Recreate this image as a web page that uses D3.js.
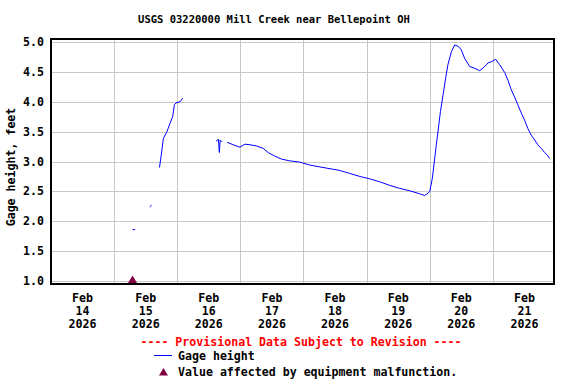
<!DOCTYPE html>
<html lang="en">
<head>
    <meta charset="UTF-8">
    <title>USGS 03220000 Mill Creek near Bellepoint OH</title>
    <script src="https://cdn.jsdelivr.net/npm/d3@7"></script>
    <style>
        body{
            margin: 0;
            background: #fff;
        }
        text{
            font-family: "DejaVu Sans Mono", "Liberation Mono", monospace;
            font-weight: bold;
        }
        .grid line{
            stroke: #c8c8c8;
            stroke-width: 1px;
            shape-rendering: crispEdges;
        }
        .gage{
            stroke: #0000ff;
            stroke-width: 1px;
            fill: none;
        }
        .frame{
            fill: none;
            stroke: #000;
            stroke-width: 2px;
            shape-rendering: crispEdges;
        }
    </style>
</head>
<body>
<svg id="svg_main" width="576" height="384"></svg>
<script>
    // gage height readings (feet), null = gap in record
    const times = [
        "2026-02-15T07:00", "2026-02-15T08:00", null,
        "2026-02-15T13:30", "2026-02-15T14:15", null,
        "2026-02-15T17:15", "2026-02-15T17:50", "2026-02-15T18:45", "2026-02-15T20:00",
        "2026-02-15T21:15", "2026-02-15T22:15", "2026-02-15T22:55", "2026-02-15T23:30",
        "2026-02-16T01:05", "2026-02-16T02:05", null,
        "2026-02-16T14:45", "2026-02-16T15:40", "2026-02-16T16:00", "2026-02-16T16:20",
        "2026-02-16T17:00", null,
        "2026-02-16T19:00", "2026-02-16T21:20", "2026-02-16T23:50", "2026-02-17T01:45",
        "2026-02-17T03:40", "2026-02-17T06:10", "2026-02-17T08:40", "2026-02-17T10:35",
        "2026-02-17T13:05", "2026-02-17T15:40", "2026-02-17T18:50", "2026-02-17T22:35",
        "2026-02-18T02:25", "2026-02-18T06:10", "2026-02-18T11:15", "2026-02-18T13:50",
        "2026-02-18T17:35", "2026-02-18T21:25", "2026-02-19T01:10", "2026-02-19T05:00",
        "2026-02-19T08:50", "2026-02-19T12:35", "2026-02-19T16:25", "2026-02-19T20:10",
        "2026-02-19T22:05", "2026-02-19T23:20", "2026-02-20T00:00", "2026-02-20T01:00",
        "2026-02-20T01:55", "2026-02-20T02:30", "2026-02-20T03:10", "2026-02-20T04:05",
        "2026-02-20T05:05", "2026-02-20T06:05", "2026-02-20T06:55", "2026-02-20T08:15",
        "2026-02-20T09:30", "2026-02-20T10:45", "2026-02-20T12:00", "2026-02-20T13:15",
        "2026-02-20T15:10", "2026-02-20T17:05", "2026-02-20T19:00", "2026-02-20T20:55",
        "2026-02-20T22:10", "2026-02-20T23:25", "2026-02-21T01:05", "2026-02-21T02:35",
        "2026-02-21T04:30", "2026-02-21T05:45", "2026-02-21T07:00", "2026-02-21T08:15",
        "2026-02-21T09:30", "2026-02-21T10:50", "2026-02-21T12:05", "2026-02-21T13:20",
        "2026-02-21T14:35", "2026-02-21T15:55", "2026-02-21T17:05", "2026-02-21T18:25",
        "2026-02-21T19:40", "2026-02-21T20:40", "2026-02-21T21:35"
    ];
    const gageHeight = [
        1.86, 1.86, null,
        2.24, 2.27, null,
        2.90, 3.08, 3.39, 3.49,
        3.64, 3.75, 3.95, 3.98,
        4.00, 4.06, null,
        3.34, 3.37, 3.15, 3.36,
        3.33, null,
        3.32, 3.28, 3.24, 3.29,
        3.28, 3.26, 3.22, 3.15,
        3.09, 3.04, 3.01, 2.99,
        2.94, 2.91, 2.87, 2.85,
        2.80, 2.75, 2.71, 2.66,
        2.60, 2.55, 2.51, 2.46,
        2.43, 2.47, 2.50, 2.72,
        3.06, 3.28, 3.51, 3.84,
        4.12, 4.40, 4.62, 4.84,
        4.95, 4.93, 4.87, 4.73,
        4.59, 4.56, 4.52, 4.59,
        4.65, 4.67, 4.71, 4.62,
        4.49, 4.36, 4.20, 4.08,
        3.95, 3.81, 3.69, 3.55,
        3.44, 3.36, 3.28, 3.22,
        3.15, 3.11, 3.05
    ];
    // equipment malfunction flags
    const malfunctionTimes = ["2026-02-15T07:00"];
    const malfunctionValues = [1.0];

    // axis ticks
    const yTicks = [1.0, 1.5, 2.0, 2.5, 3.0, 3.5, 4.0, 4.5, 5.0];
    const dayTicks = ["2026-02-14", "2026-02-15", "2026-02-16", "2026-02-17",
                      "2026-02-18", "2026-02-19", "2026-02-20", "2026-02-21"];
    const xStart = "2026-02-14T00:00";
    const xEnd = "2026-02-21T23:15";

    const title = "USGS 03220000 Mill Creek near Bellepoint OH";
    const yLabel = "Gage height, feet";

    const parse = d3.timeParse("%Y-%m-%dT%H:%M");
    const parseDay = d3.timeParse("%Y-%m-%d");

    let data = times.map((t, i) => ({
        time: t ? parse(t) : null,
        value: gageHeight[i]
    }));
    let flags = malfunctionTimes.map((t, i) => ({time: parse(t), value: malfunctionValues[i]}));

    // plot box
    const boxLeft = 51, boxRight = 554, boxTop = 39, boxBottom = 284;

    let svg = d3.select('#svg_main');

    let xScale = d3.scaleTime()
        .domain([parse(xStart), parse(xEnd)])
        .range([boxLeft, boxRight]);
    let yScale = d3.scaleLinear()
        .domain([1.0, 5.0])
        .range([281, 42]);

    // grid
    let grid = svg.append('g').attr('class', 'grid');
    grid.selectAll('.hgrid').data(yTicks).enter()
        .append('line')
        .attr('x1', boxLeft).attr('x2', boxRight)
        .attr('y1', d => Math.round(yScale(d)) + 0.5)
        .attr('y2', d => Math.round(yScale(d)) + 0.5);
    let midnights = dayTicks.slice(1).map(parseDay);
    grid.selectAll('.vgrid').data(midnights).enter()
        .append('line')
        .attr('y1', boxTop).attr('y2', boxBottom)
        .attr('x1', d => Math.round(xScale(d)) + 0.5)
        .attr('x2', d => Math.round(xScale(d)) + 0.5);

    // gage height line
    let line = d3.line()
        .defined(d => d.value !== null)
        .x(d => xScale(d.time))
        .y(d => yScale(d.value));
    svg.append('path')
        .datum(data)
        .attr('class', 'gage')
        .attr('d', line);

    // frame
    svg.append('rect')
        .attr('class', 'frame')
        .attr('x', boxLeft).attr('y', boxTop)
        .attr('width', boxRight - boxLeft).attr('height', boxBottom - boxTop);

    // malfunction markers
    svg.selectAll('.flag').data(flags).enter()
        .append('path')
        .attr('transform', d => `translate(${xScale(d.time)},${yScale(d.value)})`)
        .attr('d', 'M0,-5.5L4.5,2L-4.5,2Z')
        .attr('fill', '#800040');

    // y tick labels
    svg.selectAll('.ytick').data(yTicks).enter()
        .append('text')
        .attr('x', 44)
        .attr('y', d => yScale(d) + 4)
        .attr('text-anchor', 'end')
        .attr('font-size', '11.6px')
        .text(d => d.toFixed(1));

    // x tick labels at noon of each day
    let fmtMon = d3.timeFormat("%b"), fmtDay = d3.timeFormat("%d"), fmtYear = d3.timeFormat("%Y");
    let xlab = svg.selectAll('.xtick').data(dayTicks.map(parseDay)).enter()
        .append('text')
        .attr('text-anchor', 'middle')
        .attr('font-size', '11.6px');
    [fmtMon, fmtDay, fmtYear].forEach((f, k) => {
        xlab.append('tspan')
            .attr('x', d => xScale(d3.timeHour.offset(d, 12)))
            .attr('y', 302 + k * 12.8)
            .text(d => f(d));
    });

    // title and axis label
    svg.append('text')
        .attr('x', 274).attr('y', 23)
        .attr('text-anchor', 'middle')
        .attr('font-size', '10.5px')
        .text(title);
    svg.append('text')
        .attr('transform', 'translate(15,167) rotate(-90)')
        .attr('text-anchor', 'middle')
        .attr('font-size', '11.6px')
        .text(yLabel);

    // legend
    svg.append('text')
        .attr('x', 301).attr('y', 346)
        .attr('text-anchor', 'middle')
        .attr('font-size', '11.6px')
        .attr('fill', '#ff0000')
        .text('---- Provisional Data Subject to Revision ----');
    svg.append('line')
        .attr('x1', 154).attr('x2', 172).attr('y1', 355.5).attr('y2', 355.5)
        .attr('stroke', '#0000ff');
    svg.append('text')
        .attr('x', 178).attr('y', 360)
        .attr('font-size', '11.6px')
        .text('Gage height');
    svg.append('path')
        .attr('transform', 'translate(163.5,373.5)')
        .attr('d', 'M0,-5.5L4.5,2L-4.5,2Z')
        .attr('fill', '#800040');
    svg.append('text')
        .attr('x', 178).attr('y', 376)
        .attr('font-size', '11.6px')
        .text('Value affected by equipment malfunction.');
</script>
</body>
</html>
